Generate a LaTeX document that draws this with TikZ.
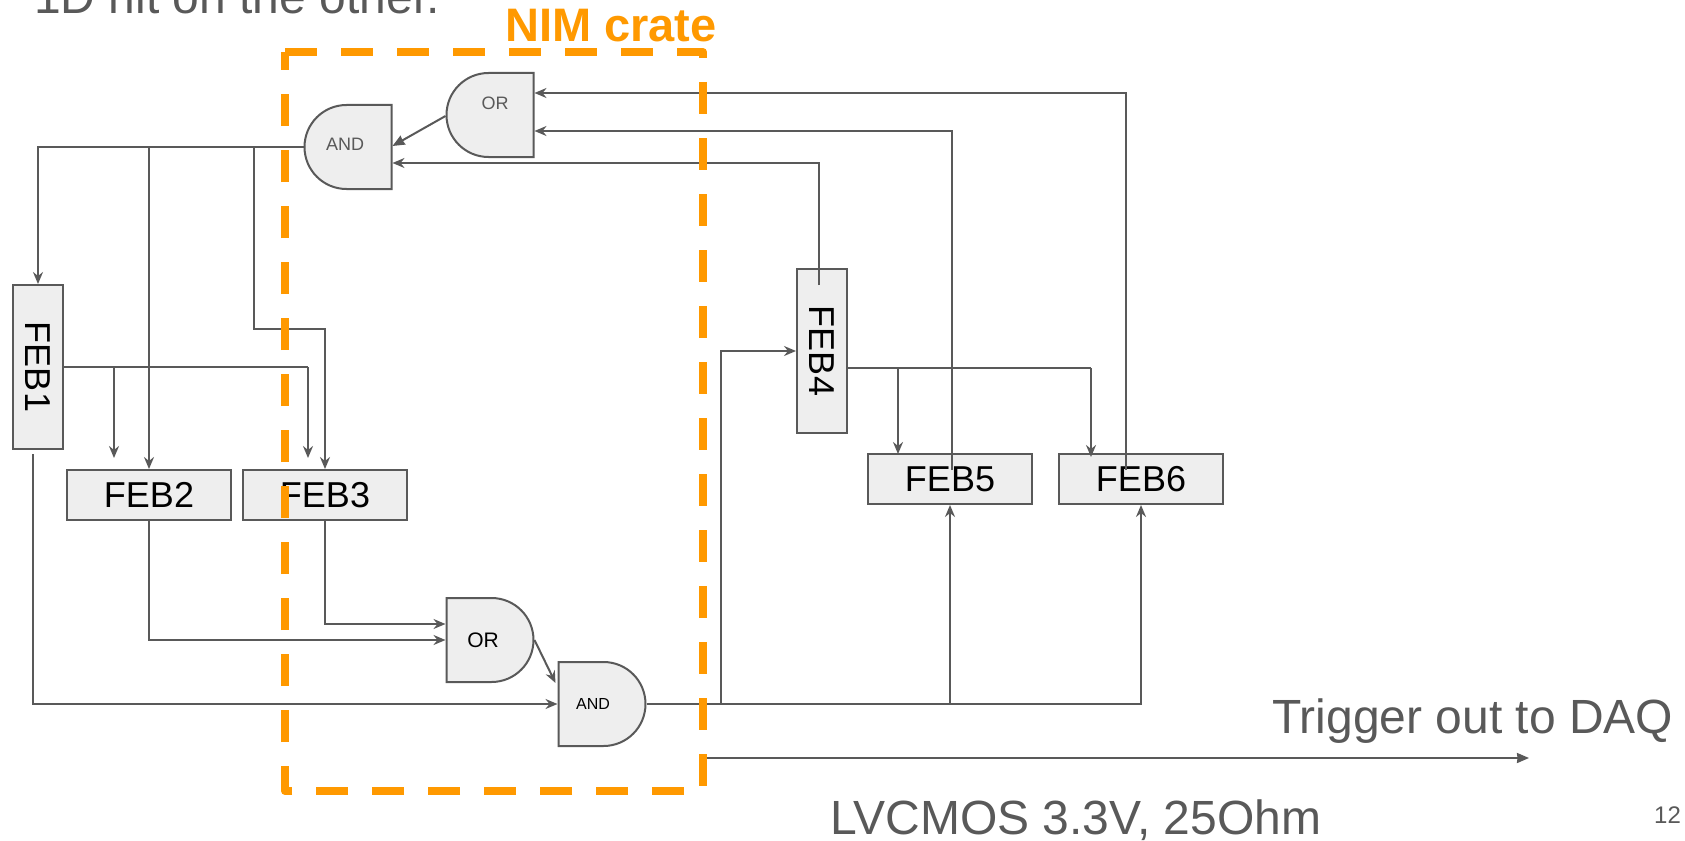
\documentclass[tikz,border=0pt]{standalone}
\usepackage{fontspec}
\setmainfont{Liberation Sans}
\usetikzlibrary{arrows.meta,shapes.misc}
\definecolor{wirecol}{HTML}{595959}
\definecolor{boxcol}{HTML}{EEEEEE}
\definecolor{cratecol}{HTML}{FF9900}
\newcommand{\fsz}[1]{\fontsize{#1}{#1}\selectfont}
\tikzset{
    wire/.style={line width=2pt,draw=wirecol},
    arr/.style={wire,-{Stealth[length=12pt,width=10pt,inset=4pt]}},
    arrsolid/.style={wire,-{Stealth[length=12pt,width=10pt,inset=0.5pt]}},
    feb/.style={draw=wirecol,line width=2pt,fill=boxcol,inner sep=0pt,font=\fsz{36}},
    febh/.style={feb,minimum width=164pt,minimum height=50pt},
    febv/.style={feb,minimum width=50pt,minimum height=164pt},
    gate/.style={rounded rectangle,rounded rectangle west arc=none,draw=wirecol,line width=2pt,
        fill=boxcol,inner sep=0pt,minimum width=87pt,minimum height=84pt},
    gateback/.style={gate,rounded rectangle west arc=convex,rounded rectangle east arc=none},
    big/.style={inner sep=0pt,text=wirecol,font=\fsz{48},anchor=base west},
}
\begin{document}
\begin{tikzpicture}[x=1pt,y=-1pt]
    \useasboundingbox (0,0) rectangle (1685,840);
    \node[big] (head) at (34,14) {1D hit on the other.};
    \node[big] (trigtxt) at (1272,733) {Trigger out to DAQ};
    \node[big] (lvtxt) at (830,834) {LVCMOS 3.3V, 25Ohm};
    \node[inner sep=0pt,text=wirecol,font=\fsz{24},anchor=base west] (pagenum) at (1654,823) {12};
    \node[inner sep=0pt,text=cratecol,font=\bfseries\fsz{47},anchor=base west] (cratetxt) at (505,42) {NIM crate};
    % front end boards
    \node[febv] (feb1) at (38,367) {\rotatebox{-90}{FEB1}};
    \node[febh] (feb2) at (149,495) {FEB2};
    \node[febh] (feb3) at (325,495) {FEB3};
    \node[febv] (feb4) at (822,351) {\rotatebox{-90}{FEB4}};
    \node[febh] (feb5) at (950,479) {FEB5};
    \node[febh] (feb6) at (1141,479) {FEB6};
    % logic gates
    \node[gate,label={[xshift=-7pt,font=\fsz{21}]center:OR}] (orlow) at (490,640) {};
    \node[gate,label={[xshift=-9pt,font=\fsz{16}]center:AND}] (andlow) at (602,704) {};
    \node[gateback,label={[xshift=5pt,yshift=12pt,text=wirecol,font=\fsz{18}]center:OR}] (orup) at (490,115) {};
    \node[gateback,label={[xshift=-3pt,yshift=3pt,text=wirecol,font=\fsz{18}]center:AND}] (andup) at (348,147) {};
    % free ends
    \coordinate (feb1out) at (33,454);
    \coordinate (feb4out) at (819,285);
    \coordinate (feb5out) at (952,470);
    \coordinate (feb6out) at (1126,470);
    \coordinate (feb2stop) at (114,458);
    \coordinate (feb3stop) at (308,458);
    \coordinate (feb5stop) at (898,454);
    \coordinate (feb6stop) at (1091,457);
    \coordinate (fan3) at (254,329);
    \coordinate (fan4) at (721,704);
    \coordinate (trigfrom) at (704,758);
    \coordinate (trigto) at (1529,758);
    % top coincidence fan out
    \draw[arr] (andup.west) -| (feb1.north);
    \draw[arr] (feb2.north |- andup.west) -- (feb2.north);
    \draw[arr] (fan3 |- andup.west) -- (fan3) -| (feb3.north);
    \draw[wire] (feb1.east) -- (feb3stop |- feb1.east);
    \draw[arr] (feb3stop |- feb1.east) -- (feb3stop);
    \draw[arr] (feb2stop |- feb1.east) -- (feb2stop);
    % lower gates
    \draw[arr] (feb1out) |- (andlow.west);
    \draw[arr] (feb2.south) |- (orlow.west);
    \draw[arr] (feb3.south) |- ([yshift=16pt]orlow.west);
    \draw[arr] (orlow.east) -- ([xshift=-2pt,yshift=21pt]andlow.west);
    % trigger fan out
    \draw[arr] (andlow.east) -| (feb6.south);
    \draw[arr] (feb5.south |- andlow.east) -- (feb5.south);
    \draw[arr] (fan4) |- (feb4.west);
    % back to upper gates
    \draw[arr] (feb4out) |- ([yshift=-16pt]andup.east);
    \draw[arr] (feb5out) |- ([yshift=-16pt]orup.east);
    \draw[arr] (feb6out) |- ([yshift=22pt]orup.east);
    \draw[arrsolid] ([yshift=-1pt]orup.west) -- ([yshift=1pt]andup.east);
    \draw[wire] ([yshift=-17pt]feb4.east) -- (feb6stop |- 0,368);
    \draw[arr] (feb6stop |- 0,368) -- (feb6stop);
    \draw[arr] (feb5stop |- 0,368) -- (feb5stop);
    \draw[arrsolid] (trigfrom) -- (trigto);
    % crate outline
    \draw[cratecol,line width=8pt,dash pattern=on 32pt off 24pt,line join=round] (285,52) -- (703,52) -- (703,791) -- (285,791) -- cycle;
\end{tikzpicture}
\end{document}
